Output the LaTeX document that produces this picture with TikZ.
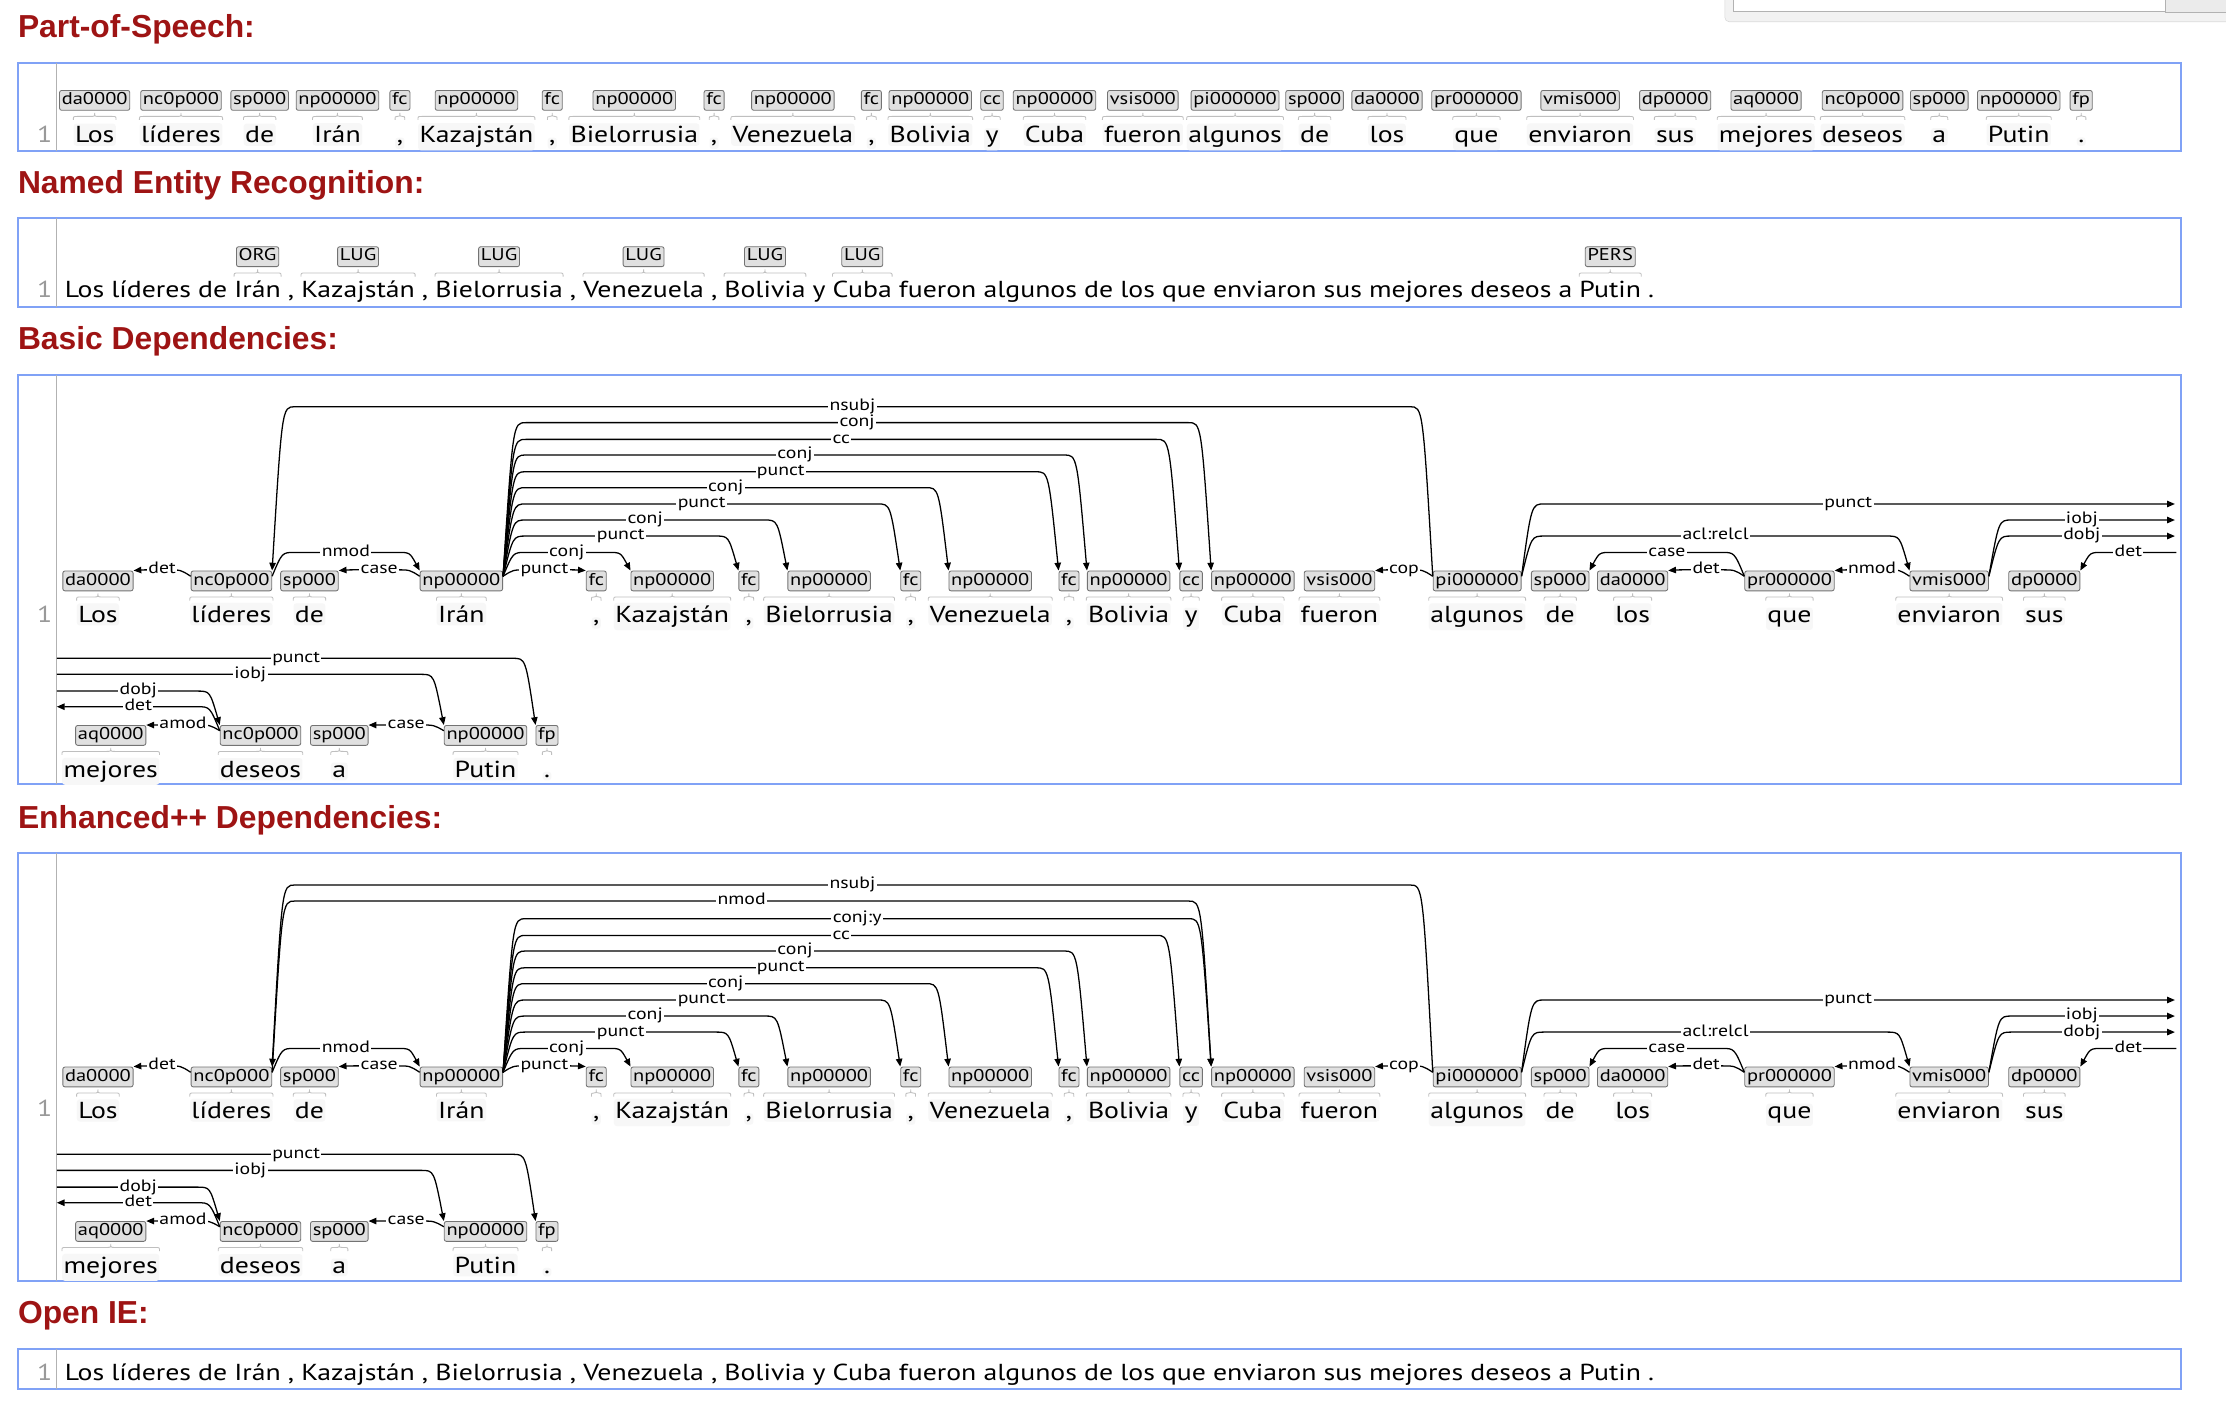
\documentclass[tikz,border=0pt]{standalone}
\usepackage{fontspec}
\setmainfont{PT Sans}
\newfontfamily\wordfont[FakeStretch=1.2]{PT Sans}
\newfontfamily\headfont{Liberation Sans}
\usetikzlibrary{calc,arrows.meta}

\definecolor{frameblue}{RGB}{128,162,246}
\definecolor{headred}{RGB}{158,20,20}
\definecolor{tagfill}{RGB}{224,224,224}
\definecolor{tagline}{RGB}{115,115,115}

\newcommand{\cm}{,}
\newcommand{\wordsize}{\wordfont\fontsize{16.3}{19}\selectfont}
\newcommand{\tagsize}{\wordfont\fontsize{12}{14}\selectfont}
\newcommand{\labsize}{\wordfont\fontsize{11.6}{13}\selectfont}
\newcommand{\wordgap}{4.6pt}
\newcount\arcno

% curly span bracket between a tag and its word
\newcommand{\spanbrace}[2]{%
  \draw[spanbrace] let \p1=(#1.west), \p2=(#1.east), \p3=(0,{#2}),
      \n1={min(3,(\x2-\x1)/4)}, \n2={(\x1+\x2)/2} in
    (\x1,\y3-2.5pt) .. controls (\x1,\y3) .. (\x1+\n1*1pt,\y3)
    -- (\n2*1pt-\n1*1pt,\y3) .. controls (\n2*1pt,\y3) .. (\n2*1pt,\y3+2.5pt)
    .. controls (\n2*1pt,\y3) .. (\n2*1pt+\n1*1pt,\y3)
    -- (\x2-\n1*1pt,\y3) .. controls (\x2,\y3) .. (\x2,\y3-2.5pt);}

% dependency arc: [source drop]{source}{side}{target}{side}{level}{label}
\newcommand{\deparc}[7][-4pt]{%
  \global\advance\arcno by 1
  \draw[deparc] let \p1=([yshift=#1]#2.north #3), \p2=(#4.north #5),
      \p3=(0,{#6}), \n1={ifthenelse(\x2>\x1,1,-1)} in
    (\p1) .. controls (\x1+\n1*7pt,\y3) .. (\x1+\n1*16pt,\y3)
    -- (\x2-\n1*16pt,\y3) .. controls (\x2-\n1*7pt,\y3) .. (\p2)
    node[deplabel] (arc\the\arcno) at ({(\x1+\x2)/2},\y3) {#7};}

% sentence as a chain of words
\newcommand{\chainsentence}[3]{%
  \foreach \w [count=\i, remember=\i as \j (initially 0)] in
    {Los,líderes,de,Irán,\cm,Kazajstán,\cm,Bielorrusia,\cm,Venezuela,\cm,
     Bolivia,y,Cuba,fueron,algunos,de,los,que,enviaron,sus,mejores,
     deseos,a,Putin,.}{%
    \ifnum\i=1
      \node[plainword] (#1\i) at (#2,#3) {\w};
    \else
      \node[plainword] (#1\i) at ([xshift=\wordgap]#1\j.base east) {\w};
    \fi}}

% tags and words of a dependency box
\newcommand{\deptokens}[2]{%
  \foreach \t/\w/\x/\r [count=\i] in
    {da0000/Los/69/1, nc0p000/líderes/163/1, sp000/de/218/1,
     np00000/Irán/325/1, fc/\cm/420/1, np00000/Kazajstán/473.5/1,
     fc/\cm/527.5/1, np00000/Bielorrusia/584/1, fc/\cm/641.5/1,
     np00000/Venezuela/697.5/1, fc/\cm/753/1, np00000/Bolivia/795/1,
     cc/y/839/1, np00000/Cuba/882.5/1, vsis000/fueron/943.5/1,
     pi000000/algunos/1040.5/1, sp000/de/1099/1, da0000/los/1150/1,
     pr000000/que/1260.5/1, vmis000/enviaron/1373/1, dp0000/sus/1440/1,
     aq0000/mejores/78/2, nc0p000/deseos/183.5/2, sp000/a/239/2,
     np00000/Putin/342/2, fp/./385.3/2}{%
    \pgfmathsetmacro{\ty}{(\r==1 ? 409.2 : 518)+#2}
    \pgfmathsetmacro{\wy}{(\r==1 ? 438.4 : 547.4)+#2}
    \pgfmathsetmacro{\by}{\ty+11.3}
    \node[postag] (#1\i) at (\x,\ty) {\t};
    \node[tokword] (#1w\i) at (\x,\wy) {\w};
    \spanbrace{#1w\i}{\by}}}

% arcs shared by both dependency boxes
\newcommand{\commonarcs}[2]{%
  \node[edgept] (#1R1) at (1532,{355+#2}) {};
  \node[edgept] (#1R2) at (1532,{366.3+#2}) {};
  \node[edgept] (#1R3) at (1532,{377.6+#2}) {};
  \node[edgept] (#1R4) at (1533,{389.1+#2}) {};
  \node[edgept] (#1L1) at (40,{463.7+#2}) {};
  \node[edgept] (#1L2) at (40,{475+#2}) {};
  \node[edgept] (#1L3) at (40,{486.8+#2}) {};
  \node[edgept] (#1L4) at (40,{497.8+#2}) {};
  \deparc{#12}{west}{#11}{east}{401.4+#2}{det}
  \deparc{#12}{east}{#14}{west}{389.1+#2}{nmod}
  \deparc{#14}{west}{#13}{east}{401.4+#2}{case}
  \deparc{#14}{east}{#15}{west}{401.4+#2}{punct}
  \deparc{#14}{east}{#16}{west}{389.1+#2}{conj}
  \deparc{#14}{east}{#17}{west}{377.6+#2}{punct}
  \deparc{#14}{east}{#18}{west}{366.3+#2}{conj}
  \deparc{#14}{east}{#19}{west}{355+#2}{punct}
  \deparc{#14}{east}{#110}{west}{343.5+#2}{conj}
  \deparc{#14}{east}{#111}{west}{332.3+#2}{punct}
  \deparc{#14}{east}{#112}{west}{320.5+#2}{conj}
  \deparc{#14}{east}{#113}{west}{309.5+#2}{cc}
  \deparc{#116}{west}{#115}{east}{401.4+#2}{cop}
  \deparc{#116}{east}{#1R1}{west}{355+#2}{punct}
  \deparc{#116}{east}{#120}{west}{377.6+#2}{acl:relcl}
  \deparc{#119}{west}{#117}{east}{389.1+#2}{case}
  \deparc{#119}{west}{#118}{east}{401.4+#2}{det}
  \deparc{#120}{west}{#119}{east}{401.4+#2}{nmod}
  \deparc{#120}{east}{#1R2}{west}{366.3+#2}{iobj}
  \deparc{#120}{east}{#1R3}{west}{377.6+#2}{dobj}
  \deparc[0pt]{#1R4}{west}{#121}{east}{389.1+#2}{det}
  \deparc[0pt]{#1L1}{east}{#126}{west}{463.7+#2}{punct}
  \deparc[0pt]{#1L2}{east}{#125}{west}{475+#2}{iobj}
  \deparc[0pt]{#1L3}{east}{#123}{west}{486.8+#2}{dobj}
  \deparc{#123}{west}{#1L4}{east}{497.8+#2}{det}
  \deparc{#123}{west}{#122}{east}{510.7+#2}{amod}
  \deparc{#125}{west}{#124}{east}{510.7+#2}{case}}

\begin{document}
\begin{tikzpicture}[
    x=1pt,
    y=-1pt,
    heading/.style={font=\headfont\bfseries\fontsize{22.4}{26}\selectfont,
      text=headred, anchor=base west, inner sep=0pt},
    blueframe/.style={draw=frameblue, line width=1.4pt},
    gutter/.style={draw=black!30, line width=0.8pt},
    lineno/.style={font=\wordsize, text=black!40, anchor=base, inner sep=0pt},
    postag/.style={draw=tagline, fill=tagfill, rounded corners=1.5pt,
      line width=0.6pt, font=\tagsize, inner xsep=1.6pt, inner ysep=0pt,
      text height=8.6pt, text depth=2.7pt, minimum height=14pt},
    tokword/.style={font=\wordsize, inner xsep=1pt, inner ysep=2pt,
      fill=black!3, rounded corners=2pt, anchor=base},
    plainword/.style={font=\wordsize, inner sep=0pt, anchor=base west},
    deparc/.style={line width=0.9pt, -{Triangle[length=5.5pt,width=4.5pt]}},
    deplabel/.style={font=\labsize, fill=white, inner xsep=1pt,
      inner ysep=0pt, text height=7.8pt, text depth=2.3pt},
    spanbrace/.style={draw=black!25, line width=0.6pt},
    edgept/.style={inner sep=0pt, outer sep=0pt, minimum size=0pt}
  ]
    \useasboundingbox (0,0) rectangle (1568,988);
    \fill[white] (0,0) rectangle (1568,988);

    % search field cut by the top edge
    \filldraw[fill=black!5, draw=black!15, rounded corners=3pt]
      (1215,-10) rectangle (1590,15.3);
    \filldraw[fill=white, draw=black!30] (1221,-10) rectangle (1525,7.7);
    \filldraw[fill=black!8, draw=black!30] (1525,-10) rectangle (1590,8.3);

    \node[heading] (hpos) at (12.5,26.3) {Part-of-Speech:};
    \node[heading] (hner) at (12.5,136.4) {Named Entity Recognition:};
    \node[heading] (hbasic) at (12.5,246.4) {Basic Dependencies:};
    \node[heading] (henh) at (12.5,583.4) {Enhanced++ Dependencies:};
    \node[heading] (hoie) at (12.5,932.5) {Open IE:};

    \foreach \top/\bot in {44.1/106.1, 153.8/216, 264.2/552.5,
                           601.1/902, 950.5/978.7} {
      \draw[blueframe] (13,\top) rectangle (1536,\bot);
      \draw[gutter] (39.5,\top) -- (39.5,\bot);
    }
    \foreach \yb [count=\i] in {100.5,209.7,438.4,786.8,972.1}
      \node[lineno] (num\i) at (31.5,\yb) {1};

    % part of speech
    \foreach \t/\w/\x [count=\i] in
      {da0000/Los/66.7, nc0p000/líderes/127.5, sp000/de/182.9,
       np00000/Irán/237.7, fc/\cm/281.7, np00000/Kazajstán/335.6,
       fc/\cm/389, np00000/Bielorrusia/446.8, fc/\cm/503,
       np00000/Venezuela/558.5, fc/\cm/613.8, np00000/Bolivia/655.3,
       cc/y/698.8, np00000/Cuba/742.8, vsis000/fueron/805,
       pi000000/algunos/870, sp000/de/926, da0000/los/977,
       pr000000/que/1040, vmis000/enviaron/1113, dp0000/sus/1180,
       aq0000/mejores/1244, nc0p000/deseos/1312, sp000/a/1366,
       np00000/Putin/1422, fp/./1466} {
      \node[postag] (pt\i) at (\x,70.7) {\t};
      \node[tokword] (pw\i) at (\x,100.5) {\w};
      \spanbrace{pw\i}{82}
    }

    % named entities
    \chainsentence{nw}{45.5}{209.7}
    \coordinate (nerlev) at (0,180.8);
    \foreach \k/\lab in {4/ORG,6/LUG,8/LUG,10/LUG,12/LUG,14/LUG,25/PERS} {
      \node[postag] (nt\k) at (nw\k.base |- nerlev) {\lab};
      \spanbrace{nw\k}{192.3}
    }

    % basic dependencies
    \deptokens{b}{0}
    \commonarcs{b}{0}
    \deparc{b16}{west}{b2}{east}{286.5}{nsubj}
    \deparc{b4}{east}{b14}{west}{297.7}{conj}

    % enhanced++ dependencies
    \deptokens{e}{349.4}
    \commonarcs{e}{349.4}
    \deparc{e16}{west}{e2}{east}{623.4}{nsubj}
    \deparc{e2}{east}{e14}{west}{634.7}{nmod}
    \deparc{e4}{east}{e14}{west}{647.1}{conj:y}

    % open IE
    \chainsentence{ow}{45.5}{972.1}
  \end{tikzpicture}
\end{document}
